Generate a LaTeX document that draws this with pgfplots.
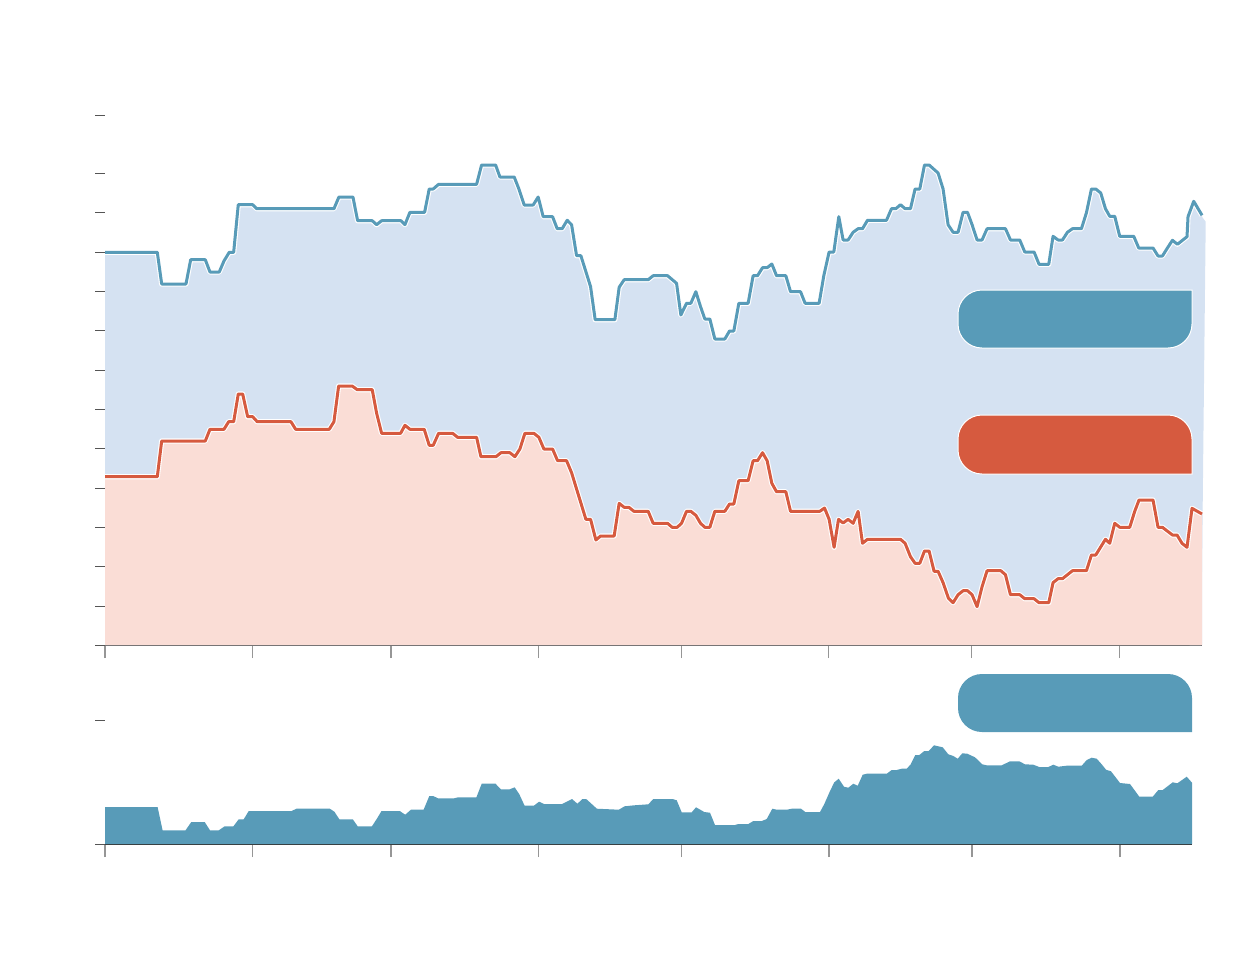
\documentclass[border=0pt]{standalone}
\usepackage{pgfplots}
\usepackage{pgfplotstable}
\pgfplotsset{compat=1.18}
\definecolor{lineblue}{RGB}{88,155,184}
\definecolor{linered}{RGB}{214,90,63}
\definecolor{fillblue}{RGB}{213,226,242}
\definecolor{fillpink}{RGB}{250,221,214}
\definecolor{axisgray}{RGB}{85,85,85}
\definecolor{tickgray}{RGB}{150,150,150}

\pgfplotstableread{
x y
105 392.7
157.3 392.7
161.7 361
186 361
190.7 385.3
205.3 385.3
210 373
219.3 373
224 384
229.3 392.7
233.7 392.7
238.3 440.3
252.7 440.3
256.7 436.3
334 436.3
339 448
353 448
357.7 424.3
372.3 424.3
376.7 420.3
381.7 424.3
401 424.3
405 420.3
410 432.7
424.7 432.7
429.3 456
433.3 456
438.7 460.7
476.7 460.7
481.7 480
495.7 480
500 468
514.3 468
519 456
524.3 440
533.3 440
538.3 448
543.3 428.3
552.7 428.3
557.3 416.3
562.3 416.3
567.3 424.7
571.7 420.3
576.7 389.3
581 389.3
590.7 358.3
595.3 325.3
615 325.3
619.3 357.7
624.3 365.3
648.3 365.3
653.3 369.3
667.7 369.3
676.7 361.7
681 330
686.7 341.7
691 341.7
696 353.3
700.7 338.3
705 326
710 326
715 306
725 306
729.7 314
734 314
739 341.7
748.3 341.7
753.3 369.3
757.7 369.3
762.7 377.3
767.3 377.3
772 381
776.7 369.3
786 369.3
790.7 353.3
800.7 353.3
805.3 341.7
819.3 341.7
824 369.3
829.3 393
834 393
839 428.3
843.3 405
848.3 405
853.3 412.7
858.3 416.3
862.7 416.3
867.7 424.7
886.7 424.7
891.7 436.3
896 436.3
900.7 440.3
905.3 436.3
910.7 436.3
915.3 456
920 456
924.7 480
929.3 480
938.3 472
943.3 456
948.3 420.3
953.3 412.7
958.3 412.7
963.3 432.7
967.7 432.7
972.3 420.3
977.3 405
982.3 405
987.3 416.3
1005.7 416.3
1010.7 405
1020 405
1025 393
1034.3 393
1039.3 380.7
1049 380.7
1053.3 408.7
1058.3 405
1062.7 405
1067.7 412.7
1072.7 416.3
1081.7 416.3
1086.7 432.3
1091.7 456
1096 456
1101 452
1105.7 436.3
1110 428.7
1115 428.7
1120 408.7
1134 408.7
1139 397
1153.3 397
1158.3 389
1162.7 389
1167.7 397
1172.7 404.7
1177.7 400.7
1187.3 408.3
1188.3 428.3
1194 443.7
1202.3 429.7
}\bluetable

\pgfplotstableread{
x y
105 168.3
157.3 168.3
161.7 204
205.3 204
210 215.7
224 215.7
228.7 223.3
233.7 223.3
238.3 251
242.7 251
247.7 228.3
252.7 228.3
257.3 223.3
291 223.3
295.7 215.7
329.3 215.7
334 223.3
338.7 259
352.3 259
357.3 255.3
372.3 255.3
376.7 231.7
381.7 211.7
400.7 211.7
405 219.7
410 215.7
424.3 215.7
429.3 199.7
433.3 199.7
438.7 211.7
452.7 211.7
457.7 207.7
476.7 207.7
481 188.3
496 188.3
501 192.3
510 192.3
515 188.3
520 196
525 211.7
534 211.7
539 207.7
544 196
552.7 196
557.7 184.3
566.7 184.3
571.7 172.3
586 125.7
590.7 125.7
596 105
600.7 109
614.3 109
619.3 141.7
624.3 137.7
629 137.7
634 133.7
648.3 133.7
653.3 121.7
667.7 121.7
672.3 117.7
677.3 117.7
681.7 121.7
686.7 133.7
691 133.7
696 129.7
700.7 121.7
705 117.7
710 117.7
715 133.7
725 133.7
729.7 141
734 141
739 164.3
748.3 164.3
753.3 184.3
757.7 184.3
762.7 192.3
767.3 184.3
772 161.7
776.7 153.3
786 153.3
790.7 133.7
820 133.7
824.7 137
829.3 125.7
834.3 97.7
838.7 125.7
843.3 122
848.3 125.7
853.3 121.7
858.3 133.7
862.7 101.7
867.7 105.7
900.7 105.7
905.3 101.7
910.7 88.3
915.3 81.7
920 81.7
924.7 94
929.3 94
934.3 73.7
938.3 73.7
943.3 62.3
948.7 46.7
953.3 42.3
958.3 50.3
963.3 54.3
967.7 54.3
972.3 50.3
977.3 38.3
982.3 58.3
987.3 74.3
1001 74.3
1005.7 70.3
1010.7 50.3
1020 50.3
1025 46.3
1034.3 46.3
1039.3 42.3
1049 42.3
1053.3 62.3
1058.3 66.3
1062.7 66.3
1072.7 74.3
1086.7 74.3
1091.7 90
1096 90
1105.7 105.7
1110 101.7
1115 121.7
1120 117.7
1130 117.7
1135 133.7
1139.3 145
1153.3 145
1158.3 117.7
1162.7 117.7
1172.7 110
1177.3 110
1182.3 101.7
1187.3 97.7
1192.3 136.7
1202.3 131
}\redtable

\pgfplotstableread{
x y
105 37
157.6 37
162.6 13.7
185.5 13.7
191.3 22
204.7 22
210 13.7
218.8 13.7
224.6 17.7
233.4 17.7
238.7 24.7
243.7 24.7
248.7 33
291.5 33
296.5 35.3
329.8 35.3
334.4 32.3
339.4 24.7
352.8 24.7
357.7 17.7
371.9 17.7
376.9 25.3
381.5 33
399.8 33
405.2 29.3
410.9 34.3
423.6 34.3
429.3 48
433.1 48
438.1 45.7
454.2 45.7
458 46.7
476.4 46.7
481.7 60.3
495.5 60.3
500.9 54.7
509.7 54.7
514.6 56.7
519.2 50
524.6 38.3
533.8 38.3
539.1 42.3
544.1 40
562.1 40
572 45
577.4 40.3
582.4 45
586.2 45
596.9 35.3
618.8 34.3
624.5 37.7
634.1 38.7
648.3 39.7
653.3 45
672.7 45
676.7 43.7
681.7 31.7
691.7 31.7
696 36.7
704.3 32
710 31.3
715 19
735 19
738.3 20
748.3 20
753.3 23
761.7 23
766.7 25
772.3 35.3
776.7 34.3
786.7 34.3
791.7 35.3
801 35.3
805.3 32
820 32
824.3 40
830 53
834.3 61.7
838.7 65.3
844 57.3
848.3 56.3
853.3 60.3
857.7 58.3
862.7 69.3
866.7 70.3
886.7 70.3
891.7 74
896.7 74
901.7 75.3
906.7 75.3
910.7 79.7
915.3 89
919.3 89
924.3 93
928.7 93
934 98.7
942.7 96.7
948.3 89.7
953.3 88
957.7 85.3
962.3 90.7
967.3 90.3
975 86.7
982.3 79.7
986.7 78.7
1001.7 78.7
1010 82.7
1019.3 82.7
1025 79.7
1033.3 79.3
1039.3 77
1048.3 77
1053.3 79.3
1058.3 77.3
1066.7 78.3
1081.7 78.3
1086.7 84
1091.7 86.3
1096.7 85.3
1101.7 79.7
1106 74.3
1111 72.7
1120 61
1130 60
1139.3 47.3
1152.7 47.3
1158.3 54
1162.7 54
1172.7 61.7
1177.3 60.7
1186.7 67.3
1192 61.3
}\bottomtable

\begin{document}
\begin{tikzpicture}
\path[use as bounding box] (0pt,0pt) rectangle (620pt,-482pt);

% ---------- top chart ----------
\begin{axis}[
  at={(52.5pt,-322.5pt)}, anchor=south west,
  scale only axis, width=548.5pt, height=265pt,
  xmin=105, xmax=1202.3, ymin=0, ymax=530,
  axis x line=bottom, axis y line=none,
  axis line style={-, draw=axisgray, line width=0.5pt},
  xtick={105,252.5,391,538.5,681.5,829,972,1120},
  xticklabels={}, ytick=\empty,
  tick align=outside, major tick length=6.5pt,
  xtick style={draw=tickgray, line width=0.65pt},
  clip=false,
]
\addplot[fill=fillblue, draw=none] table {\bluetable} \closedcycle;
\addplot[fill=fillblue, draw=none] coordinates {(1190,0) (1190,425) (1195,428.3) (1201.7,429) (1206,423.3) (1201.5,0)} -- cycle;
\addplot[fill=fillpink, draw=none] table {\redtable} \closedcycle;
\addplot[white, line width=2.6pt, line join=round] table {\redtable};
\addplot[linered, line width=1.5pt, line join=round] table {\redtable};
\addplot[white, line width=2.6pt, line join=round] table {\bluetable};
\addplot[lineblue, line width=1.5pt, line join=round] table {\bluetable};
\end{axis}

% ---------- bottom chart ----------
\begin{axis}[
  at={(52.5pt,-422pt)}, anchor=south west,
  scale only axis, width=543.5pt, height=85pt,
  xmin=105, xmax=1192, ymin=0, ymax=170,
  axis x line=bottom, axis y line=none,
  axis line style={-, draw=black!80, line width=0.6pt},
  xtick={105,252.5,391,538.5,681.5,829,972,1120},
  xticklabels={}, ytick=\empty,
  tick align=outside, major tick length=6.5pt,
  xtick style={draw=tickgray, line width=0.65pt},
  clip=false,
]
\addplot[fill=lineblue, draw=none] table {\bottomtable} \closedcycle;
\end{axis}

\begin{scope}[x=0.5pt,y=-0.5pt]
\foreach \yy in {115,173,212,252,291,330,370,409,448,488,527,566,606,645,720,844}
  \draw[axisgray, line width=0.5pt] (95,\yy) -- (105,\yy);
\end{scope}

% annotation boxes (pt coordinates)
\def\rr{12pt}
% blue box: rounded TL, BL, BR; square TR
\fill[lineblue, draw=white, line width=0.5pt]
  (596pt,-145pt) -- (596pt,-162pt) arc[start angle=0, end angle=-90, radius=\rr]
  -- (491pt,-174pt) arc[start angle=270, end angle=180, radius=\rr]
  -- (479pt,-157pt) arc[start angle=180, end angle=90, radius=\rr] -- cycle;
% red box: rounded TL, BL, TR; square BR
\fill[linered, draw=white, line width=0.5pt]
  (596pt,-237pt) -- (491pt,-237pt) arc[start angle=270, end angle=180, radius=\rr]
  -- (479pt,-219.5pt) arc[start angle=180, end angle=90, radius=\rr]
  -- (584pt,-207.5pt) arc[start angle=90, end angle=0, radius=\rr] -- cycle;
% bottom box: rounded TL, BL, TR; square BR
\fill[lineblue]
  (596pt,-366pt) -- (491pt,-366pt) arc[start angle=270, end angle=180, radius=\rr]
  -- (479pt,-349pt) arc[start angle=180, end angle=90, radius=\rr]
  -- (584pt,-337pt) arc[start angle=90, end angle=0, radius=\rr] -- cycle;
\end{tikzpicture}
\end{document}
